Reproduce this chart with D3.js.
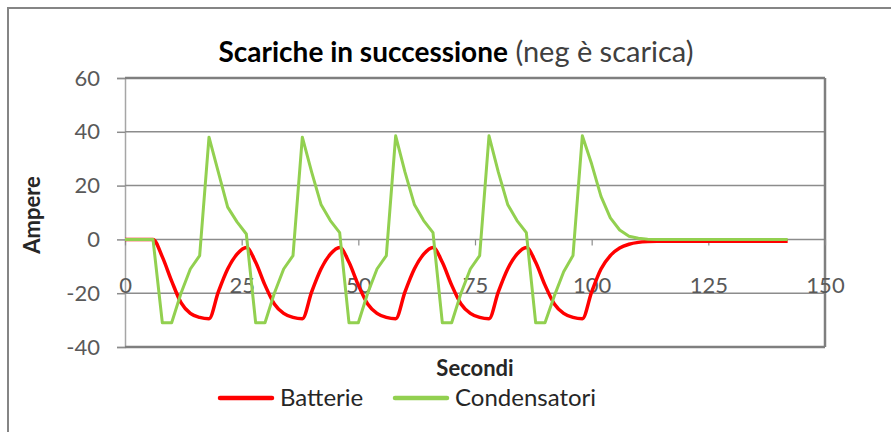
<!DOCTYPE html>
<html>
<head>
<meta charset="utf-8">
<script src="https://cdn.jsdelivr.net/npm/d3@7"></script>
<style>
    html, body { margin: 0; padding: 0; background: #fff; }
    svg { display: block; font-family: Lato, "Liberation Sans", sans-serif; }
</style>
</head>
<body>
<svg id="chart"></svg>
<script>
// values, one sample every 2 seconds
let seconds = [
    0, 2, 4, 6, 8, 10, 12, 14, 16, 18, 20, 22, 24, 26, 28, 30, 32, 34, 36, 38,
    40, 42, 44, 46, 48, 50, 52, 54, 56, 58, 60, 62, 64, 66, 68, 70, 72, 74, 76, 78,
    80, 82, 84, 86, 88, 90, 92, 94, 96, 98, 100, 102, 104, 106, 108, 110, 112, 114, 116, 118,
    120, 122, 124, 126, 128, 130, 132, 134, 136, 138, 140, 142
];

let batterie = [
    0, 0, 0, 0,
    -6.5, -15.5, -23.5, -27.5, -29, -29.5, -19.5, -11, -5.5, -3,
    -8.5, -17, -24, -27.5, -29, -29.5, -19.5, -11, -5.5, -3,
    -8.5, -17, -24, -27.5, -29, -29.5, -19.5, -11, -5.5, -3,
    -8.5, -17, -24, -27.5, -29, -29.5, -19.5, -11, -5.5, -3,
    -8.5, -17, -24, -27.5, -29, -29.5, -19.5, -11, -6, -3.2, -1.8, -1.1, -0.8,
    -0.7, -0.7, -0.7, -0.7, -0.7, -0.7, -0.7, -0.7, -0.7, -0.7, -0.7, -0.7, -0.7, -0.7, -0.7
];

let condensatori = [
    0, 0, 0, 0,
    -31, -31, -20, -11, -6, 38, 25, 12, 6.5, 2,
    -31, -31, -20, -11, -6, 38, 25, 13, 7, 2.5,
    -31, -31, -20, -11, -6, 38.5, 25, 13, 7, 2.5,
    -31, -31, -20, -11, -6, 38.5, 25, 13, 7, 2.5,
    -31, -31, -21, -12, -6, 38.5, 28, 16, 8, 3.5, 1.2, 0.4, 0.1,
    0, 0, 0, 0, 0, 0, 0, 0, 0, 0, 0, 0, 0, 0, 0
];

let seriesNames = ['Batterie', 'Condensatori'];
let seriesColors = ['#ff0000', '#92d050'];
let xTicks = [0, 25, 50, 75, 100, 125, 150];
let yTicks = [-40, -20, 0, 20, 40, 60];

let width = 891;
let height = 432;
let plot = {left: 125, right: 825, top: 78, bottom: 347};

let svg = d3.select('#chart')
        .attr('width', width)
        .attr('height', height);

// outer chart frame (runs past the right and bottom edge of the picture)
svg.append('rect')
        .attr('x', 8)
        .attr('y', 8)
        .attr('width', 920)
        .attr('height', 480)
        .attr('fill', '#fff')
        .attr('stroke', '#858585')
        .attr('stroke-width', 2);

let x = d3.scaleLinear()
        .domain([0, 150])
        .range([plot.left, plot.right]);

let y = d3.scaleLinear()
        .domain([-40, 60])
        .range([plot.bottom, plot.top]);

// y axis with gridlines
let yAxis = svg.append('g')
        .attr('transform', 'translate(' + plot.left + ',0)')
        .call(d3.axisLeft(y)
                .tickValues(yTicks)
                .tickFormat(d => String(d))
                .tickSize(8)
                .tickPadding(17));

yAxis.select('.domain').attr('stroke', '#a6a6a6').attr('stroke-width', 1.5);
yAxis.selectAll('.tick line').attr('stroke', '#8c8c8c').attr('stroke-width', 1.5);
yAxis.selectAll('.tick text')
        .attr('fill', '#595959')
        .style('font-size', '22px')
        .style('font-family', 'Lato, "Liberation Sans", sans-serif');

svg.append('g')
        .selectAll('line')
        .data(yTicks)
        .join('line')
        .attr('x1', plot.left)
        .attr('x2', plot.right)
        .attr('y1', d => y(d))
        .attr('y2', d => y(d))
        .attr('stroke', d => (d === -40 || d === 60) ? '#7f7f7f' : '#8c8c8c')
        .attr('stroke-width', d => (d === -40 || d === 60) ? 2.5 : 1.5);

// right frame of the plot area
svg.append('line')
        .attr('x1', plot.right)
        .attr('x2', plot.right)
        .attr('y1', plot.top)
        .attr('y2', plot.bottom)
        .attr('stroke', '#7f7f7f')
        .attr('stroke-width', 2.5);

// x axis sits on zero, its labels hang lower
let xAxis = svg.append('g')
        .attr('transform', 'translate(0,' + y(0) + ')')
        .call(d3.axisBottom(x)
                .tickValues(xTicks)
                .tickFormat(d => String(d))
                .tickSize(6));

xAxis.select('.domain').remove();
xAxis.selectAll('.tick line').attr('stroke', '#8c8c8c').attr('stroke-width', 1.2);
xAxis.selectAll('.tick text')
        .attr('y', 38)
        .attr('fill', '#595959')
        .style('font-size', '22px')
        .style('font-family', 'Lato, "Liberation Sans", sans-serif');

// series
let rows = seconds.map((t, i) => ({t: t, b: batterie[i], c: condensatori[i]}));

let lineB = d3.line()
        .x(d => x(d.t))
        .y(d => y(d.b))
        .curve(d3.curveMonotoneX);

let lineC = d3.line()
        .x(d => x(d.t))
        .y(d => y(d.c));

svg.append('path')
        .datum(rows)
        .attr('d', lineB)
        .attr('fill', 'none')
        .attr('stroke', seriesColors[0])
        .attr('stroke-width', 3.5)
        .attr('stroke-linejoin', 'round');

svg.append('path')
        .datum(rows)
        .attr('d', lineC)
        .attr('fill', 'none')
        .attr('stroke', seriesColors[1])
        .attr('stroke-width', 3)
        .attr('stroke-linejoin', 'round');

// titles
let title = svg.append('text')
        .attr('x', 456)
        .attr('y', 62)
        .attr('text-anchor', 'middle')
        .attr('fill', '#000');
title.append('tspan')
        .attr('font-weight', 'bold')
        .style('font-size', '28px')
        .text('Scariche in successione');
title.append('tspan')
        .attr('fill', '#404040')
        .style('font-size', '29px')
        .text(' (neg è scarica)');

svg.append('text')
        .attr('transform', 'translate(40,215) rotate(-90)')
        .attr('text-anchor', 'middle')
        .attr('font-weight', 'bold')
        .attr('fill', '#262626')
        .style('font-size', '22px')
        .text('Ampere');

svg.append('text')
        .attr('x', 475)
        .attr('y', 376)
        .attr('text-anchor', 'middle')
        .attr('font-weight', 'bold')
        .attr('fill', '#262626')
        .style('font-size', '22px')
        .text('Secondi');

// legend
let legendX = [220, 395];
let legend = svg.append('g')
        .selectAll('g')
        .data(seriesNames)
        .join('g')
        .attr('transform', (d, i) => 'translate(' + legendX[i] + ',398)');

legend.append('line')
        .attr('x1', 0)
        .attr('x2', 52)
        .attr('stroke', (d, i) => seriesColors[i])
        .attr('stroke-width', 4.5)
        .attr('stroke-linecap', 'round');

legend.append('text')
        .attr('x', 60)
        .attr('y', 8)
        .attr('fill', '#262626')
        .style('font-size', '24px')
        .text(d => d);
</script>
</body>
</html>
